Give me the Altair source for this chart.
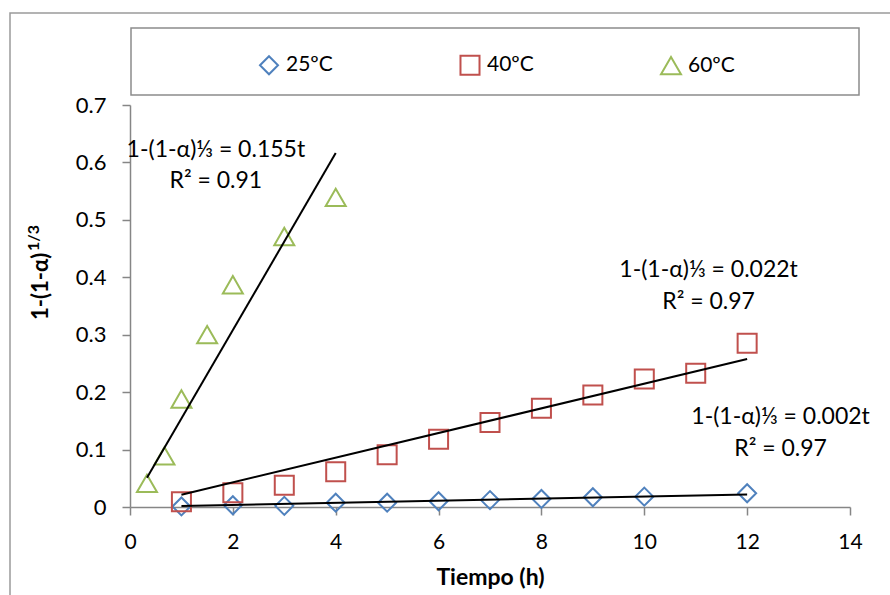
import altair as alt
import numpy as np
import pandas as pd

# ---- data ----
series_names = ["25ºC", "40ºC", "60ºC"]
series_colors = ["#4F81BD", "#C0504D", "#9BBB59"]
series_shapes = ["diamond", "square", "triangle-up"]

t_25 = [1, 2, 3, 4, 5, 6, 7, 8, 9, 10, 12]
v_25 = [0.001, 0.003, 0.002, 0.0075, 0.0075, 0.010, 0.012, 0.014, 0.017, 0.018, 0.024]

t_40 = [1, 2, 3, 4, 5, 6, 7, 8, 9, 10, 11, 12]
v_40 = [0.009, 0.025, 0.038, 0.0615, 0.091, 0.118, 0.147, 0.172, 0.195, 0.223, 0.233, 0.285]

t_60 = [0.33, 0.67, 1, 1.5, 2, 3, 4]
v_60 = [0.041, 0.089, 0.188, 0.300, 0.387, 0.471, 0.539]

eq_text = ["1-(1-α)⅓ = 0.002t", "1-(1-α)⅓ = 0.022t", "1-(1-α)⅓ = 0.155t"]
r2_text = ["R² = 0.97", "R² = 0.97", "R² = 0.91"]
# annotation anchors (data units)
eq_anchor_t = [12.65, 11.25, 1.67]
eq_anchor_v = [0.157, 0.413, 0.622]
r2_anchor_v = [0.101, 0.357, 0.568]

x_ticks = [0, 2, 4, 6, 8, 10, 12, 14]
y_ticks = [0, 0.1, 0.2, 0.3, 0.4, 0.5, 0.6, 0.7]

# ---- tables ----
ts = [t_25, t_40, t_60]
vs = [v_25, v_40, v_60]
points = pd.concat(
    [pd.DataFrame({"t": t, "v": v, "serie": s}) for t, v, s in zip(ts, vs, series_names)],
    ignore_index=True,
)

# linear trendlines through the origin (least squares, as in the spreadsheet)
trend_rows = []
for t, v, s in zip(ts, vs, series_names):
    ta, va = np.array(t), np.array(v)
    slope = float((ta * va).sum() / (ta * ta).sum())
    for tt in (ta.min(), ta.max()):
        trend_rows.append({"t": float(tt), "v": slope * float(tt), "serie": s})
trend = pd.DataFrame(trend_rows)

ann = pd.DataFrame({"t": eq_anchor_t, "v": eq_anchor_v, "v2": r2_anchor_v,
                    "eq": eq_text, "r2": r2_text})

FONT = "Lato"
W, H = 720, 402

xscale = alt.Scale(domain=[0, 14], nice=False)
yscale = alt.Scale(domain=[0, 0.7], nice=False)

x_enc = alt.X("t:Q", scale=xscale,
              axis=alt.Axis(values=x_ticks, title="Tiempo (h)", format="d",
                            labelFlush=False, labelPadding=16, titlePadding=14))
y_enc = alt.Y("v:Q", scale=yscale,
              axis=alt.Axis(values=y_ticks, title=None, format=".1~f",
                            labelFlush=False, labelPadding=16, labelFontSize=22))

pts = alt.Chart(points).mark_point(filled=False, strokeWidth=2, opacity=1).encode(
    x=x_enc,
    y=y_enc,
    color=alt.Color("serie:N", scale=alt.Scale(domain=series_names, range=series_colors),
                    legend=alt.Legend(title=None, orient="none", direction="horizontal",
                                      legendX=128, legendY=-51, columns=3,
                                      columnPadding=123, symbolSize=289,
                                      symbolStrokeWidth=2, labelOffset=6,
                                      labelFont=FONT, labelFontSize=21,
                                      labelColor="#000")),
    shape=alt.Shape("serie:N", scale=alt.Scale(domain=series_names, range=series_shapes)),
    size=alt.Size("serie:N", scale=alt.Scale(domain=series_names, range=[324, 400, 450]),
                  legend=None),
)

lines = alt.Chart(trend).mark_line(color="#000", strokeWidth=2).encode(
    x="t:Q", y="v:Q", detail="serie:N"
)

eq = alt.Chart(ann).mark_text(font=FONT, fontSize=23, color="#000",
                              align="center", baseline="middle").encode(
    x="t:Q", y="v:Q", text="eq:N")
r2 = alt.Chart(ann).mark_text(font=FONT, fontSize=23, color="#000",
                              align="center", baseline="middle").encode(
    x="t:Q", y="v2:Q", text="r2:N")

one = pd.DataFrame({"k": [0]})
legend_box = alt.Chart(one).mark_rect(fill="white", stroke="#8c8c8c", strokeWidth=1.5).encode(
    x=alt.value(1), x2=alt.value(729), y=alt.value(-77), y2=alt.value(-10))
outer_box = alt.Chart(one).mark_rect(fill="white", fillOpacity=0, stroke="#9a9a9a",
                                     strokeWidth=1.5).encode(
    x=alt.value(-120), x2=alt.value(820), y=alt.value(-92), y2=alt.value(530))

ytitle_main = alt.Chart(one).mark_text(font=FONT, fontSize=22, fontWeight="bold", color="#000",
                                       angle=270, align="left", baseline="middle").encode(
    x=alt.value(-89), y=alt.value(215), text=alt.value("1-(1-α)"))
ytitle_sup = alt.Chart(one).mark_text(font=FONT, fontSize=16, fontWeight="bold", color="#000",
                                      angle=270, align="left", baseline="middle").encode(
    x=alt.value(-96), y=alt.value(146), text=alt.value("1/3"))

chart = alt.layer(outer_box, legend_box, pts, lines, eq, r2, ytitle_main, ytitle_sup).properties(
    width=W, height=H,
    autosize=alt.AutoSizeParams(type="none"),
    padding={"left": 130, "top": 105, "right": 40, "bottom": 88},
).configure_view(stroke=None).configure_axis(
    grid=False,
    domainColor="#868686", domainWidth=1.5,
    tickColor="#868686", tickWidth=1.5, tickSize=8,
    labelFont=FONT, labelFontSize=21, labelColor="#000",
    titleFont=FONT, titleFontSize=23, titleFontWeight="bold", titleColor="#000",
)

chart.save("out.html", embed_options={"renderer": "svg", "actions": False})
